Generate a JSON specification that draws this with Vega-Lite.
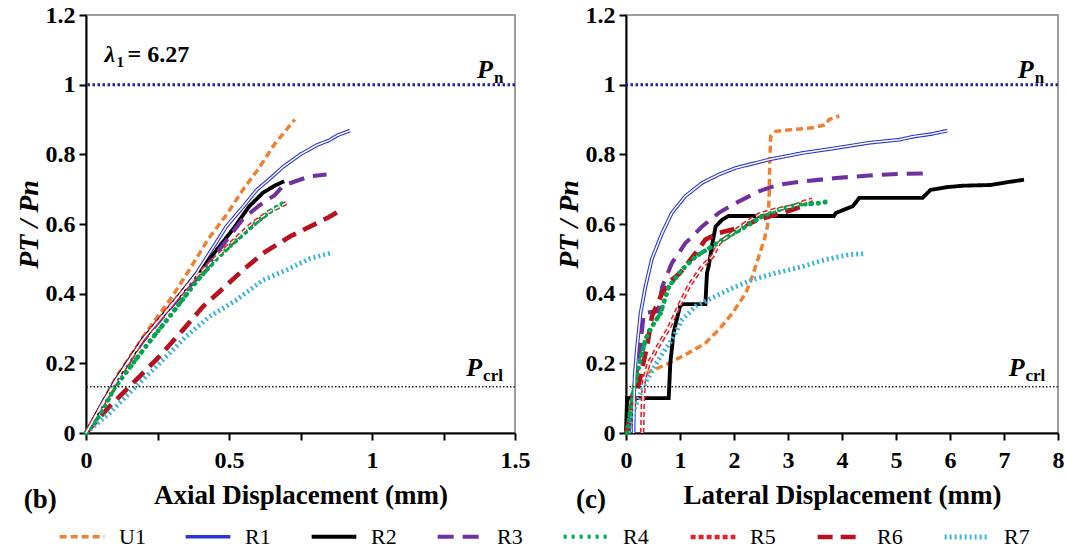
{
  "$schema": "https://vega.github.io/schema/vega-lite/v6.json",
  "padding": {"left": 14, "top": 2, "right": 0, "bottom": 0},
  "background": "white",
  "config": {
    "font": "Liberation Serif",
    "view": {"stroke": "#7f7f7f", "strokeWidth": 1.5},
    "axis": {"labelFont": "Liberation Serif", "labelFontSize": 24, "labelFontWeight": "bold", "labelColor": "black", "titleFont": "Liberation Serif", "titleFontSize": 27, "titleFontWeight": "bold", "titleColor": "black", "domainColor": "black", "domainWidth": 2, "tickColor": "black", "tickWidth": 2, "tickSize": 7, "grid": false, "labelFlush": false},
    "axisX": {"labelPadding": 8, "titlePadding": 10},
    "axisY": {"labelPadding": 4, "titlePadding": 2, "titleFontSize": 28, "titleFontStyle": "italic"},
    "text": {"font": "Liberation Serif", "color": "black"}
  },
  "datasets": {
    "one": [{"k": 1}],
    "axial": [
      {"s":"U1","x":0,"y":0},{"s":"U1","x":0.105,"y":0.16},{"s":"U1","x":0.22,"y":0.3},{"s":"U1","x":0.3,"y":0.39},{"s":"U1","x":0.37,"y":0.48},{"s":"U1","x":0.43,"y":0.56},{"s":"U1","x":0.49,"y":0.625},{"s":"U1","x":0.55,"y":0.7},{"s":"U1","x":0.6,"y":0.755},{"s":"U1","x":0.66,"y":0.83},{"s":"U1","x":0.73,"y":0.9},
      {"s":"R1","x":0,"y":0},{"s":"R1","x":0.05,"y":0.075},{"s":"R1","x":0.105,"y":0.153},{"s":"R1","x":0.2,"y":0.27},{"s":"R1","x":0.304,"y":0.372},{"s":"R1","x":0.386,"y":0.458},{"s":"R1","x":0.45,"y":0.54},{"s":"R1","x":0.49,"y":0.592},{"s":"R1","x":0.55,"y":0.65},{"s":"R1","x":0.596,"y":0.697},{"s":"R1","x":0.65,"y":0.735},{"s":"R1","x":0.689,"y":0.764},{"s":"R1","x":0.75,"y":0.8},{"s":"R1","x":0.806,"y":0.826},{"s":"R1","x":0.85,"y":0.84},{"s":"R1","x":0.88,"y":0.855},{"s":"R1","x":0.923,"y":0.868},
      {"s":"R2","x":0,"y":0},{"s":"R2","x":0.105,"y":0.152},{"s":"R2","x":0.2,"y":0.27},{"s":"R2","x":0.304,"y":0.372},{"s":"R2","x":0.386,"y":0.455},{"s":"R2","x":0.432,"y":0.5},{"s":"R2","x":0.514,"y":0.585},{"s":"R2","x":0.57,"y":0.65},{"s":"R2","x":0.619,"y":0.69},{"s":"R2","x":0.66,"y":0.71},{"s":"R2","x":0.693,"y":0.723},
      {"s":"R3","x":0,"y":0},{"s":"R3","x":0.105,"y":0.15},{"s":"R3","x":0.2,"y":0.265},{"s":"R3","x":0.3,"y":0.365},{"s":"R3","x":0.4,"y":0.455},{"s":"R3","x":0.479,"y":0.54},{"s":"R3","x":0.549,"y":0.615},{"s":"R3","x":0.607,"y":0.654},{"s":"R3","x":0.66,"y":0.683},{"s":"R3","x":0.689,"y":0.71},{"s":"R3","x":0.73,"y":0.722},{"s":"R3","x":0.783,"y":0.737},{"s":"R3","x":0.841,"y":0.742},
      {"s":"R4","x":0,"y":0},{"s":"R4","x":0.047,"y":0.05},{"s":"R4","x":0.1,"y":0.13},{"s":"R4","x":0.164,"y":0.2},{"s":"R4","x":0.22,"y":0.26},{"s":"R4","x":0.292,"y":0.334},{"s":"R4","x":0.386,"y":0.435},{"s":"R4","x":0.456,"y":0.5},{"s":"R4","x":0.514,"y":0.545},{"s":"R4","x":0.596,"y":0.605},{"s":"R4","x":0.65,"y":0.64},{"s":"R4","x":0.689,"y":0.659},
      {"s":"R5","x":0,"y":0},{"s":"R5","x":0.05,"y":0.07},{"s":"R5","x":0.1,"y":0.14},{"s":"R5","x":0.2,"y":0.27},{"s":"R5","x":0.3,"y":0.37},{"s":"R5","x":0.386,"y":0.45},{"s":"R5","x":0.45,"y":0.5},{"s":"R5","x":0.52,"y":0.555},{"s":"R5","x":0.58,"y":0.6},{"s":"R5","x":0.64,"y":0.635},{"s":"R5","x":0.7,"y":0.66},
      {"s":"R6","x":0,"y":0},{"s":"R6","x":0.082,"y":0.076},{"s":"R6","x":0.164,"y":0.143},{"s":"R6","x":0.257,"y":0.22},{"s":"R6","x":0.339,"y":0.296},{"s":"R6","x":0.409,"y":0.363},{"s":"R6","x":0.479,"y":0.415},{"s":"R6","x":0.549,"y":0.468},{"s":"R6","x":0.619,"y":0.516},{"s":"R6","x":0.713,"y":0.564},{"s":"R6","x":0.806,"y":0.602},{"s":"R6","x":0.85,"y":0.62},{"s":"R6","x":0.882,"y":0.635},
      {"s":"R7","x":0,"y":0},{"s":"R7","x":0.082,"y":0.057},{"s":"R7","x":0.175,"y":0.134},{"s":"R7","x":0.257,"y":0.2},{"s":"R7","x":0.35,"y":0.277},{"s":"R7","x":0.432,"y":0.334},{"s":"R7","x":0.526,"y":0.382},{"s":"R7","x":0.619,"y":0.439},{"s":"R7","x":0.701,"y":0.468},{"s":"R7","x":0.783,"y":0.501},{"s":"R7","x":0.853,"y":0.516}
    ],
    "lateral": [
      {"s":"U1","x":0,"y":0},{"s":"U1","x":0.05,"y":0.08},{"s":"U1","x":0.15,"y":0.14},{"s":"U1","x":0.3,"y":0.165},{"s":"U1","x":0.42,"y":0.175},{"s":"U1","x":0.79,"y":0.2},{"s":"U1","x":1.16,"y":0.23},{"s":"U1","x":1.47,"y":0.258},{"s":"U1","x":1.72,"y":0.297},{"s":"U1","x":1.97,"y":0.344},{"s":"U1","x":2.22,"y":0.402},{"s":"U1","x":2.34,"y":0.45},{"s":"U1","x":2.46,"y":0.507},{"s":"U1","x":2.56,"y":0.555},{"s":"U1","x":2.62,"y":0.593},{"s":"U1","x":2.65,"y":0.67},{"s":"U1","x":2.66,"y":0.766},{"s":"U1","x":2.68,"y":0.852},{"s":"U1","x":2.77,"y":0.866},{"s":"U1","x":3.08,"y":0.871},{"s":"U1","x":3.45,"y":0.876},{"s":"U1","x":3.7,"y":0.885},{"s":"U1","x":3.76,"y":0.9},{"s":"U1","x":3.95,"y":0.91},
      {"s":"R1","x":0.14,"y":0},{"s":"R1","x":0.15,"y":0.1},{"s":"R1","x":0.16,"y":0.163},{"s":"R1","x":0.2,"y":0.24},{"s":"R1","x":0.27,"y":0.344},{"s":"R1","x":0.36,"y":0.42},{"s":"R1","x":0.48,"y":0.5},{"s":"R1","x":0.67,"y":0.574},{"s":"R1","x":0.85,"y":0.632},{"s":"R1","x":1.1,"y":0.68},{"s":"R1","x":1.41,"y":0.718},{"s":"R1","x":1.72,"y":0.742},{"s":"R1","x":2.03,"y":0.761},{"s":"R1","x":2.65,"y":0.785},{"s":"R1","x":3.27,"y":0.804},{"s":"R1","x":3.89,"y":0.818},{"s":"R1","x":4.5,"y":0.833},{"s":"R1","x":5.06,"y":0.842},{"s":"R1","x":5.33,"y":0.851},{"s":"R1","x":5.65,"y":0.858},{"s":"R1","x":5.95,"y":0.868},
      {"s":"R2","x":0,"y":0},{"s":"R2","x":0.02,"y":0.1},{"s":"R2","x":0.79,"y":0.1},{"s":"R2","x":0.8,"y":0.13},{"s":"R2","x":0.82,"y":0.2},{"s":"R2","x":0.88,"y":0.287},{"s":"R2","x":1.0,"y":0.364},{"s":"R2","x":1.05,"y":0.37},{"s":"R2","x":1.47,"y":0.37},{"s":"R2","x":1.5,"y":0.46},{"s":"R2","x":1.53,"y":0.478},{"s":"R2","x":1.6,"y":0.545},{"s":"R2","x":1.66,"y":0.593},{"s":"R2","x":1.78,"y":0.612},{"s":"R2","x":1.9,"y":0.623},{"s":"R2","x":3.85,"y":0.623},{"s":"R2","x":3.89,"y":0.632},{"s":"R2","x":4.2,"y":0.651},{"s":"R2","x":4.32,"y":0.675},{"s":"R2","x":5.49,"y":0.675},{"s":"R2","x":5.64,"y":0.698},{"s":"R2","x":5.95,"y":0.706},{"s":"R2","x":6.25,"y":0.71},{"s":"R2","x":6.75,"y":0.712},{"s":"R2","x":7.06,"y":0.72},{"s":"R2","x":7.37,"y":0.727},
      {"s":"R3","x":0.05,"y":0},{"s":"R3","x":0.11,"y":0.096},{"s":"R3","x":0.235,"y":0.21},{"s":"R3","x":0.33,"y":0.344},{"s":"R3","x":0.6,"y":0.35},{"s":"R3","x":0.67,"y":0.42},{"s":"R3","x":0.85,"y":0.488},{"s":"R3","x":1.1,"y":0.545},{"s":"R3","x":1.41,"y":0.593},{"s":"R3","x":1.72,"y":0.632},{"s":"R3","x":2.03,"y":0.66},{"s":"R3","x":2.46,"y":0.694},{"s":"R3","x":2.83,"y":0.713},{"s":"R3","x":3.27,"y":0.722},{"s":"R3","x":3.89,"y":0.732},{"s":"R3","x":4.5,"y":0.739},{"s":"R3","x":5.06,"y":0.744},{"s":"R3","x":5.64,"y":0.745},
      {"s":"R4","x":0.02,"y":0},{"s":"R4","x":0.11,"y":0.096},{"s":"R4","x":0.235,"y":0.19},{"s":"R4","x":0.36,"y":0.268},{"s":"R4","x":0.48,"y":0.306},{"s":"R4","x":0.64,"y":0.344},{"s":"R4","x":0.79,"y":0.42},{"s":"R4","x":1.04,"y":0.469},{"s":"R4","x":1.29,"y":0.507},{"s":"R4","x":1.6,"y":0.536},{"s":"R4","x":1.9,"y":0.565},{"s":"R4","x":2.22,"y":0.593},{"s":"R4","x":2.52,"y":0.622},{"s":"R4","x":2.83,"y":0.641},{"s":"R4","x":3.2,"y":0.656},{"s":"R4","x":3.58,"y":0.66},{"s":"R4","x":3.76,"y":0.665},
      {"s":"R5","x":0.3,"y":0},{"s":"R5","x":0.31,"y":0.08},{"s":"R5","x":0.33,"y":0.15},{"s":"R5","x":0.42,"y":0.2},{"s":"R5","x":0.6,"y":0.25},{"s":"R5","x":0.79,"y":0.3},{"s":"R5","x":0.98,"y":0.364},{"s":"R5","x":1.16,"y":0.42},{"s":"R5","x":1.41,"y":0.478},{"s":"R5","x":1.6,"y":0.507},{"s":"R5","x":1.72,"y":0.545},{"s":"R5","x":1.97,"y":0.574},{"s":"R5","x":2.22,"y":0.603},{"s":"R5","x":2.46,"y":0.627},{"s":"R5","x":2.77,"y":0.641},{"s":"R5","x":3.08,"y":0.65},{"s":"R5","x":3.33,"y":0.665},{"s":"R5","x":3.45,"y":0.67},
      {"s":"R6","x":0,"y":0},{"s":"R6","x":0.11,"y":0.067},{"s":"R6","x":0.24,"y":0.144},{"s":"R6","x":0.39,"y":0.249},{"s":"R6","x":0.48,"y":0.335},{"s":"R6","x":0.67,"y":0.402},{"s":"R6","x":0.85,"y":0.44},{"s":"R6","x":1.0,"y":0.459},{"s":"R6","x":1.29,"y":0.517},{"s":"R6","x":1.47,"y":0.555},{"s":"R6","x":1.72,"y":0.574},{"s":"R6","x":1.97,"y":0.584},{"s":"R6","x":2.22,"y":0.598},{"s":"R6","x":2.46,"y":0.612},{"s":"R6","x":2.77,"y":0.627},{"s":"R6","x":3.08,"y":0.641},{"s":"R6","x":3.24,"y":0.65},
      {"s":"R7","x":0.05,"y":0},{"s":"R7","x":0.17,"y":0.077},{"s":"R7","x":0.36,"y":0.144},{"s":"R7","x":0.6,"y":0.21},{"s":"R7","x":0.85,"y":0.268},{"s":"R7","x":1.04,"y":0.325},{"s":"R7","x":1.29,"y":0.364},{"s":"R7","x":1.53,"y":0.383},{"s":"R7","x":1.9,"y":0.411},{"s":"R7","x":2.34,"y":0.44},{"s":"R7","x":2.77,"y":0.459},{"s":"R7","x":3.27,"y":0.478},{"s":"R7","x":3.7,"y":0.498},{"s":"R7","x":4.13,"y":0.512},{"s":"R7","x":4.44,"y":0.515}
    ]
  },
  "spacing": 23,
  "hconcat": [
    {
      "width": 429,
      "height": 418,
      "layer": [
        {
          "data": {"name": "axial"},
          "mark": {"type": "line", "strokeCap": "butt"},
          "encoding": {
            "x": {"field": "x", "type": "quantitative", "scale": {"domain": [0, 1.5], "nice": false, "zero": false}, "axis": {"title": "Axial Displacement (mm)", "values": [0, 0.25, 0.5, 0.75, 1, 1.25, 1.5], "labelExpr": "round(datum.value*4) % 2 === 0 ? format(datum.value, '.1~f') : ''"}},
            "y": {"field": "y", "type": "quantitative", "scale": {"domain": [0, 1.2], "nice": false}, "axis": {"title": "PT / Pn", "values": [0, 0.1, 0.2, 0.3, 0.4, 0.5, 0.6, 0.7, 0.8, 0.9, 1, 1.1, 1.2], "labelExpr": "round(datum.value*10) % 2 === 0 ? format(datum.value, '.1~f') : ''"}},
            "color": {"field": "s", "type": "nominal", "scale": {"domain": ["U1","R1","R2","R3","R4","R5","R6","R7"], "range": ["#EE8033","#2B35D8","#000000","#7030A0","#00A650","#E8202A","#B8101E","#3CB4D8"]},
              "legend": {"title": null, "orient": "none", "legendX": -29, "legendY": 497, "direction": "horizontal", "columns": 8, "symbolType": "stroke", "symbolSize": 2000, "symbolStrokeWidth": 3.5, "labelFont": "Liberation Serif", "labelFontSize": 22, "labelColor": "black", "labelOffset": 12, "columnPadding": 32, "padding": 0}},
            "strokeDash": {"field": "s", "type": "nominal", "scale": {"domain": ["U1","R1","R2","R3","R4","R5","R6","R7"], "range": [[7,4],[1,0],[1,0],[16,9],[3,5],[5,3],[15,8],[2,3]]}},
            "strokeWidth": {"field": "s", "type": "nominal", "scale": {"domain": ["U1","R1","R2","R3","R4","R5","R6","R7"], "range": [3.5,4.8,3,4,0,4.5,4,2.8]}, "legend": null},
            "order": {"value": null}
          }
        },
        {
          "data": {"name": "axial"},
          "transform": [{"filter": "datum.s === 'R4'"}],
          "mark": {"type": "line", "color": "#00A650", "strokeWidth": 4.8, "strokeCap": "round", "strokeDash": [0.1, 6.5]},
          "encoding": {"x": {"field": "x", "type": "quantitative"}, "y": {"field": "y", "type": "quantitative"}, "order": {"value": null}}
        },
        {
          "data": {"name": "axial"},
          "transform": [{"filter": "datum.s === 'R1'"}],
          "mark": {"type": "line", "color": "white", "strokeWidth": 1.5},
          "encoding": {"x": {"field": "x", "type": "quantitative"}, "y": {"field": "y", "type": "quantitative"}, "order": {"value": null}}
        },
        {
          "data": {"name": "axial"},
          "transform": [{"filter": "datum.s === 'R5'"}],
          "mark": {"type": "line", "color": "white", "strokeWidth": 1.3, "strokeDash": [5, 3]},
          "encoding": {"x": {"field": "x", "type": "quantitative"}, "y": {"field": "y", "type": "quantitative"}, "order": {"value": null}}
        },
        {"data": {"name": "one"}, "mark": {"type": "rule", "color": "#1F1FA8", "strokeWidth": 3, "strokeDash": [2.5, 2.5]}, "encoding": {"y": {"datum": 1}}},
        {"data": {"name": "one"}, "mark": {"type": "rule", "color": "#222222", "strokeWidth": 1.5, "strokeDash": [1.5, 2]}, "encoding": {"y": {"datum": 0.133}}},
        {"data": {"name": "one"}, "mark": {"type": "text", "text": "P", "align": "right", "baseline": "alphabetic", "fontSize": 26, "fontWeight": "bold", "fontStyle": "italic"}, "encoding": {"x": {"datum": 1.423}, "y": {"datum": 1.02}}},
        {"data": {"name": "one"}, "mark": {"type": "text", "text": "n", "align": "left", "baseline": "alphabetic", "fontSize": 17, "fontWeight": "bold", "dx": 1, "dy": 5}, "encoding": {"x": {"datum": 1.423}, "y": {"datum": 1.02}}},
        {"data": {"name": "one"}, "mark": {"type": "text", "text": "P", "align": "right", "baseline": "alphabetic", "fontSize": 26, "fontWeight": "bold", "fontStyle": "italic"}, "encoding": {"x": {"datum": 1.385}, "y": {"datum": 0.165}}},
        {"data": {"name": "one"}, "mark": {"type": "text", "text": "crl", "align": "left", "baseline": "alphabetic", "fontSize": 17, "fontWeight": "bold", "dx": 1, "dy": 5}, "encoding": {"x": {"datum": 1.385}, "y": {"datum": 0.165}}},
        {"data": {"name": "one"}, "mark": {"type": "text", "text": "λ", "align": "left", "baseline": "alphabetic", "fontSize": 24, "fontWeight": "bold", "fontStyle": "italic"}, "encoding": {"x": {"datum": 0.065}, "y": {"datum": 1.064}}},
        {"data": {"name": "one"}, "mark": {"type": "text", "text": "1", "align": "left", "baseline": "alphabetic", "fontSize": 15, "fontWeight": "bold", "dx": 12, "dy": 5}, "encoding": {"x": {"datum": 0.065}, "y": {"datum": 1.064}}},
        {"data": {"name": "one"}, "mark": {"type": "text", "text": "= 6.27", "align": "left", "baseline": "alphabetic", "fontSize": 24, "fontWeight": "bold", "dx": 23}, "encoding": {"x": {"datum": 0.065}, "y": {"datum": 1.064}}},
        {"data": {"name": "one"}, "mark": {"type": "text", "text": "(b)", "align": "center", "baseline": "alphabetic", "fontSize": 27, "fontWeight": "bold"}, "encoding": {"x": {"datum": -0.16}, "y": {"datum": -0.214}}}
      ]
    },
    {
      "width": 432,
      "height": 418,
      "layer": [
        {
          "data": {"name": "lateral"},
          "mark": {"type": "line", "strokeCap": "butt"},
          "encoding": {
            "x": {"field": "x", "type": "quantitative", "scale": {"domain": [0, 8], "nice": false, "zero": false}, "axis": {"title": "Lateral Displacement (mm)", "values": [0, 0.5, 1, 1.5, 2, 2.5, 3, 3.5, 4, 4.5, 5, 5.5, 6, 6.5, 7, 7.5, 8], "labelExpr": "round(datum.value*2) % 2 === 0 ? format(datum.value, 'd') : ''"}},
            "y": {"field": "y", "type": "quantitative", "scale": {"domain": [0, 1.2], "nice": false}, "axis": {"title": "PT / Pn", "values": [0, 0.1, 0.2, 0.3, 0.4, 0.5, 0.6, 0.7, 0.8, 0.9, 1, 1.1, 1.2], "labelExpr": "round(datum.value*10) % 2 === 0 ? format(datum.value, '.1~f') : ''"}},
            "color": {"field": "s", "type": "nominal", "scale": {"domain": ["U1","R1","R2","R3","R4","R5","R6","R7"], "range": ["#EE8033","#2B35D8","#000000","#7030A0","#00A650","#E8202A","#B8101E","#3CB4D8"]}},
            "strokeDash": {"field": "s", "type": "nominal", "scale": {"domain": ["U1","R1","R2","R3","R4","R5","R6","R7"], "range": [[7,4],[1,0],[1,0],[16,9],[3,5],[5,3],[15,8],[2,3]]}},
            "strokeWidth": {"field": "s", "type": "nominal", "scale": {"domain": ["U1","R1","R2","R3","R4","R5","R6","R7"], "range": [3.5,4.8,3,4,0,4.5,4,2.8]}, "legend": null},
            "order": {"value": null}
          }
        },
        {
          "data": {"name": "lateral"},
          "transform": [{"filter": "datum.s === 'R4'"}],
          "mark": {"type": "line", "color": "#00A650", "strokeWidth": 4.8, "strokeCap": "round", "strokeDash": [0.1, 6.5]},
          "encoding": {"x": {"field": "x", "type": "quantitative"}, "y": {"field": "y", "type": "quantitative"}, "order": {"value": null}}
        },
        {
          "data": {"name": "lateral"},
          "transform": [{"filter": "datum.s === 'R1'"}],
          "mark": {"type": "line", "color": "white", "strokeWidth": 1.5},
          "encoding": {"x": {"field": "x", "type": "quantitative"}, "y": {"field": "y", "type": "quantitative"}, "order": {"value": null}}
        },
        {
          "data": {"name": "lateral"},
          "transform": [{"filter": "datum.s === 'R5'"}],
          "mark": {"type": "line", "color": "white", "strokeWidth": 1.3, "strokeDash": [5, 3]},
          "encoding": {"x": {"field": "x", "type": "quantitative"}, "y": {"field": "y", "type": "quantitative"}, "order": {"value": null}}
        },
        {"data": {"name": "one"}, "mark": {"type": "rule", "color": "#1F1FA8", "strokeWidth": 3, "strokeDash": [2.5, 2.5]}, "encoding": {"y": {"datum": 1}}},
        {"data": {"name": "one"}, "mark": {"type": "rule", "color": "#222222", "strokeWidth": 1.5, "strokeDash": [1.5, 2]}, "encoding": {"y": {"datum": 0.133}}},
        {"data": {"name": "one"}, "mark": {"type": "text", "text": "P", "align": "right", "baseline": "alphabetic", "fontSize": 26, "fontWeight": "bold", "fontStyle": "italic"}, "encoding": {"x": {"datum": 7.55}, "y": {"datum": 1.02}}},
        {"data": {"name": "one"}, "mark": {"type": "text", "text": "n", "align": "left", "baseline": "alphabetic", "fontSize": 17, "fontWeight": "bold", "dx": 1, "dy": 5}, "encoding": {"x": {"datum": 7.55}, "y": {"datum": 1.02}}},
        {"data": {"name": "one"}, "mark": {"type": "text", "text": "P", "align": "right", "baseline": "alphabetic", "fontSize": 26, "fontWeight": "bold", "fontStyle": "italic"}, "encoding": {"x": {"datum": 7.38}, "y": {"datum": 0.165}}},
        {"data": {"name": "one"}, "mark": {"type": "text", "text": "crl", "align": "left", "baseline": "alphabetic", "fontSize": 17, "fontWeight": "bold", "dx": 1, "dy": 5}, "encoding": {"x": {"datum": 7.38}, "y": {"datum": 0.165}}},
        {"data": {"name": "one"}, "mark": {"type": "text", "text": "(c)", "align": "center", "baseline": "alphabetic", "fontSize": 27, "fontWeight": "bold"}, "encoding": {"x": {"datum": -0.65}, "y": {"datum": -0.214}}}
      ]
    }
  ]
}
